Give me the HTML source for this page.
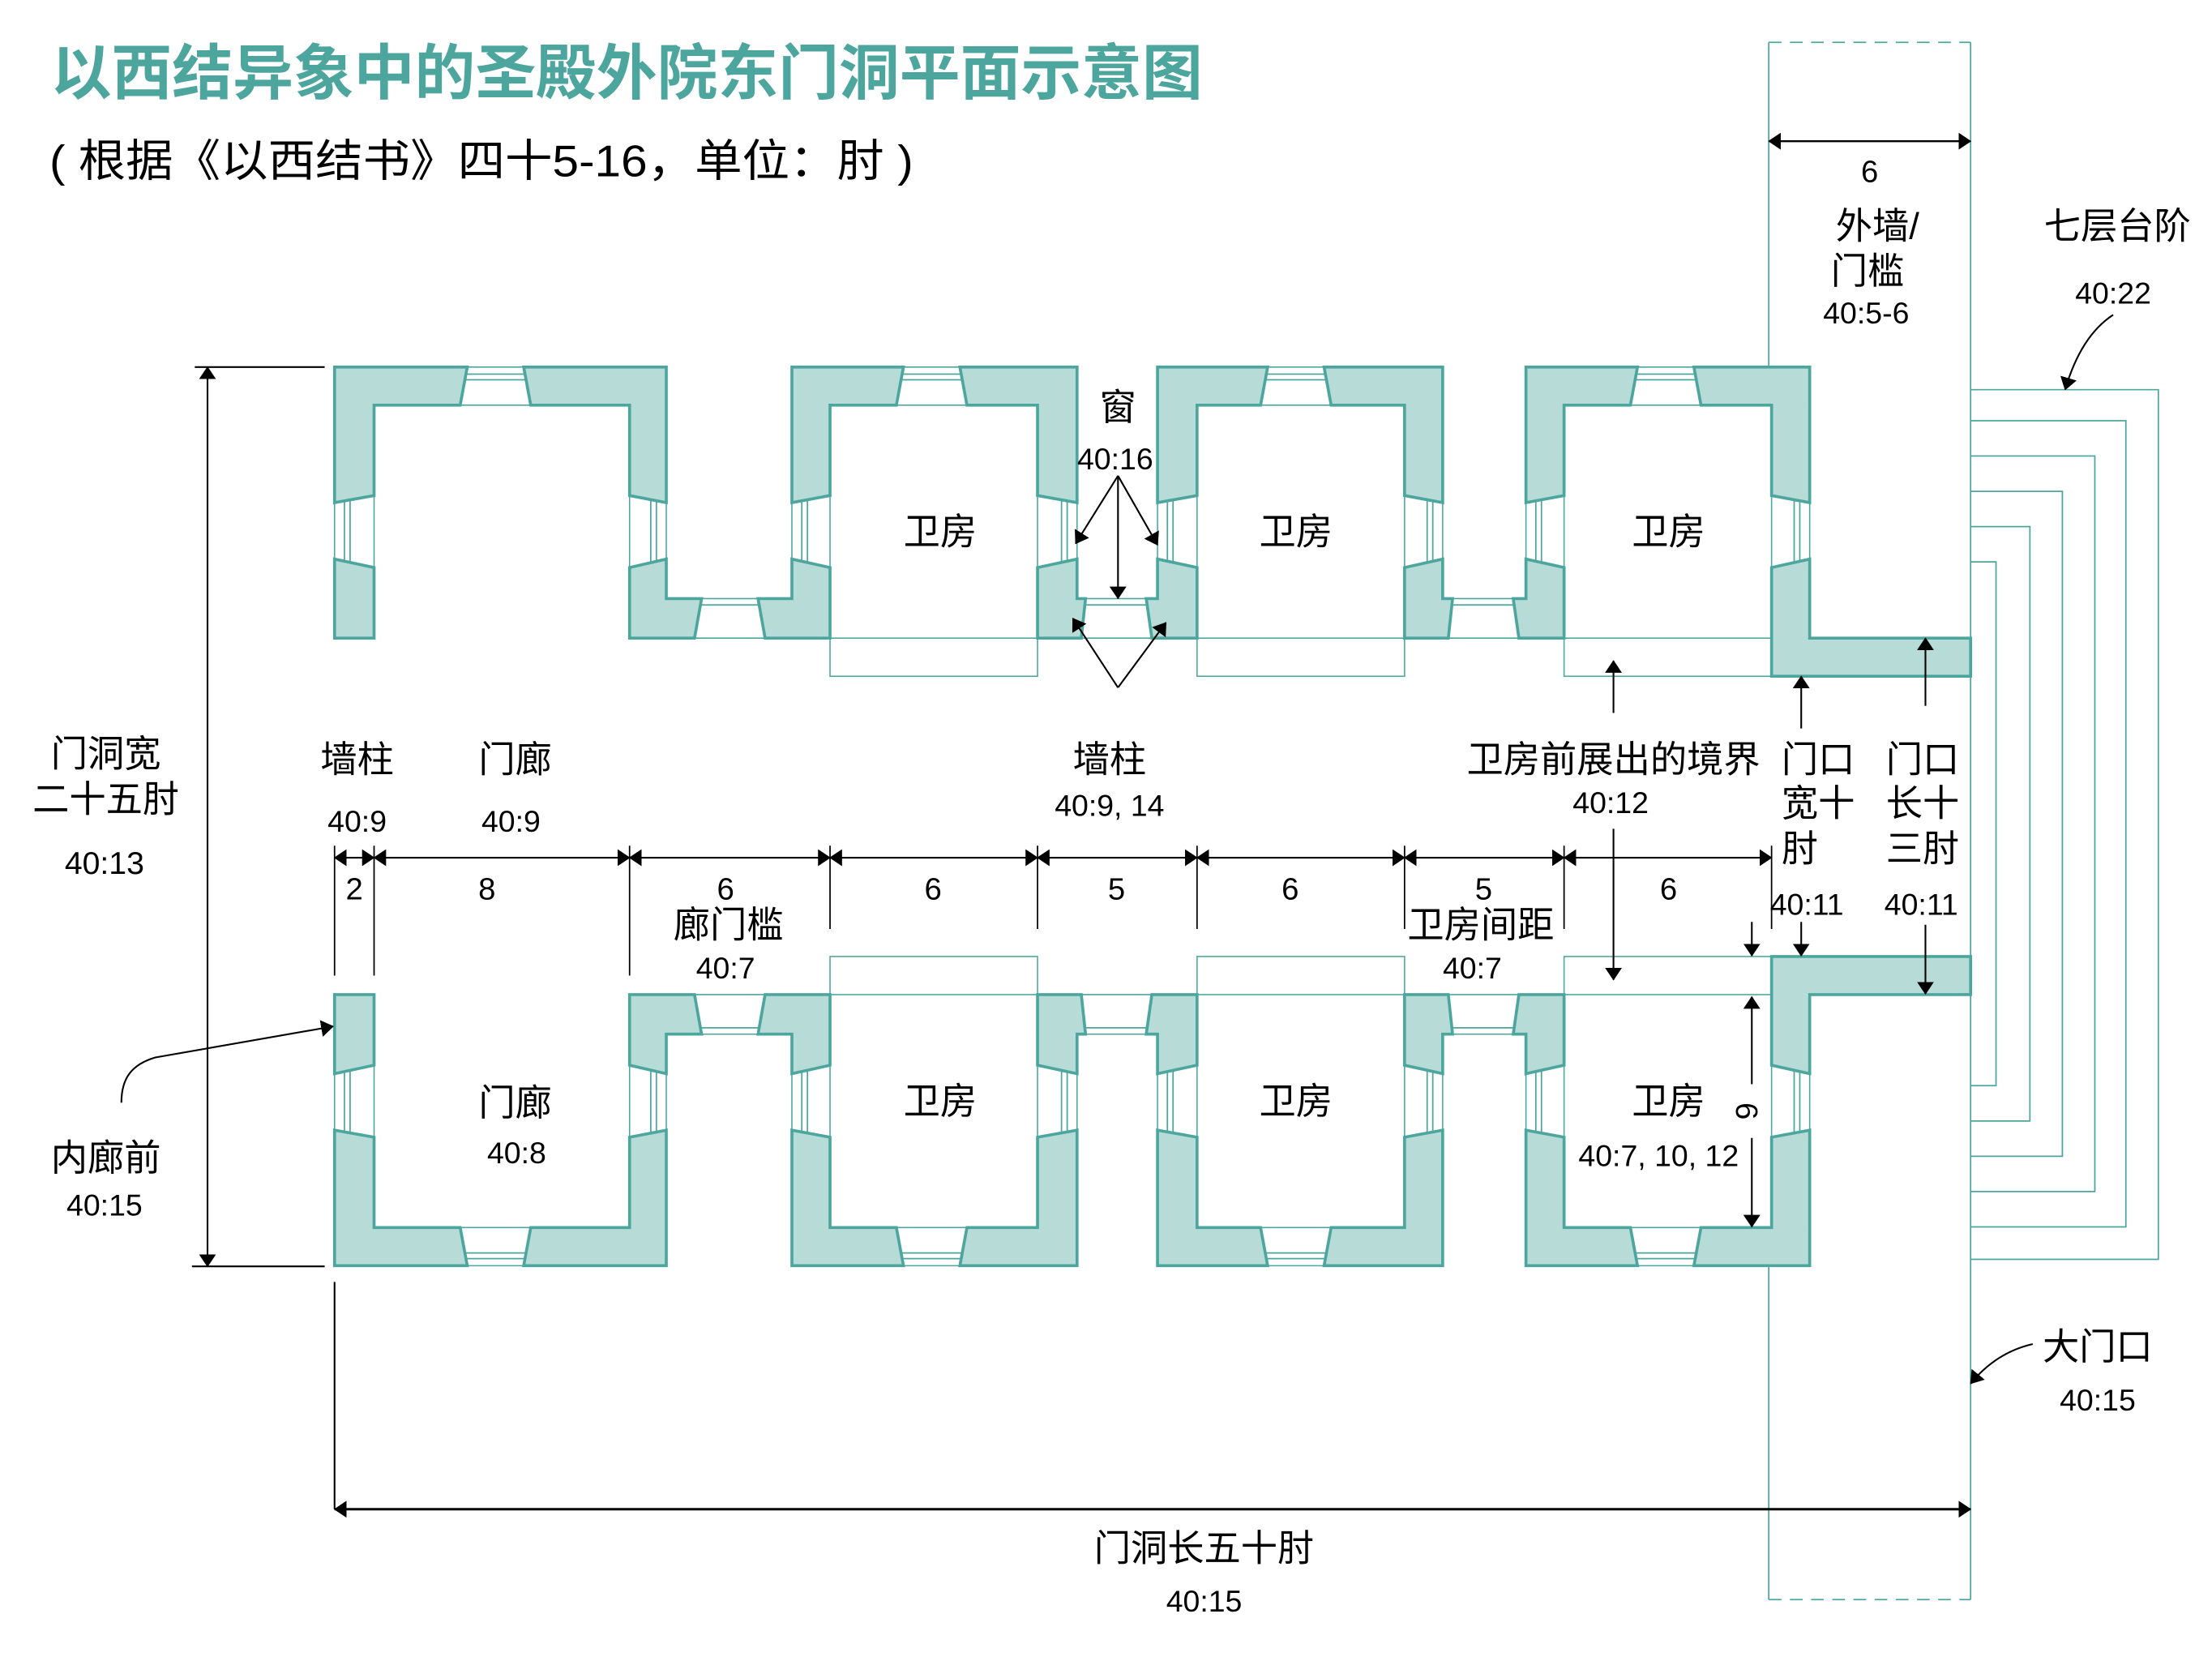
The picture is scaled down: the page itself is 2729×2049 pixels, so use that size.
<!DOCTYPE html>
<html><head><meta charset="utf-8">
<style>
html,body{margin:0;padding:0;background:#fff;width:2729px;height:2049px;overflow:hidden;}
svg{display:block;}
text{font-family:"Liberation Sans","Noto Sans CJK SC",sans-serif;fill:#000;}
.cj{font-size:26px;text-anchor:middle;}
.cs{font-size:26px;}
.nm{font-size:21.5px;text-anchor:middle;}
.dg{font-size:22px;text-anchor:middle;}
.w{fill:#b7dcd8;stroke:#4da69e;stroke-width:2.1;stroke-linejoin:miter;}
.o{fill:#fff;stroke:#4da69e;stroke-width:0.9;}
.l{fill:none;stroke:#4da69e;stroke-width:1;}
.k{stroke:#000;stroke-width:1.2;fill:none;}
</style></head><body>
<svg width="2729" height="2049" viewBox="0 0 1567 1176.5" preserveAspectRatio="none" xmlns="http://www.w3.org/2000/svg" xmlns:xlink="http://www.w3.org/1999/xlink">
<defs>
<marker id="ah" markerUnits="userSpaceOnUse" markerWidth="9" markerHeight="12" refX="8.5" refY="6" orient="auto-start-reverse" viewBox="0 0 9 12"><path d="M0,0 L9,6 L0,12 z" fill="#000"/></marker>
<g id="row">
  <polygon class="o" points="237,356 265,351 265,402 237,396"/>
  <polygon class="o" points="446,351 472,356 472,396 446,402"/>
  <polygon class="o" points="561,356 588,351 588,402 561,396"/>
  <polygon class="o" points="735,351 763,356 763,396 735,402"/>
  <polygon class="o" points="820,356 848,351 848,402 820,396"/>
  <polygon class="o" points="995,351 1022,356 1022,396 995,402"/>
  <polygon class="o" points="1081,356 1108,351 1108,402 1081,396"/>
  <polygon class="o" points="1255,351 1282,356 1282,396 1255,402"/>
  <path class="l" d="M244,355V397.5 M248,354.5V398 M465,355V397.5 M461,354.5V398 M568,355V397.5 M572,354.5V398 M756,355V397.5 M752,354.5V398 M827,355V397.5 M831,354.5V398 M1015,355V397.5 M1011,354.5V398 M1088,355V397.5 M1092,354.5V398 M1275,355V397.5 M1271,354.5V398"/>
  <polygon class="o" points="331,260 371,260 376,287 326,287"/>
  <polygon class="o" points="640,260 680,260 685,287 635,287"/>
  <polygon class="o" points="898,260 938,260 943,287 893,287"/>
  <polygon class="o" points="1160,260 1200,260 1205,287 1155,287"/>
  <path class="l" d="M330,265H372 M329.5,269H372.5 M639,265H681 M638.5,269H681.5 M897,265H939 M896.5,269H939.5 M1159,265H1201 M1158.5,269H1201.5"/>
  <polygon class="o" points="497,424 537,424 542,452 492,452"/>
  <polygon class="o" points="769,424 812,424 816,452 766,452"/>
  <polygon class="o" points="1029,424 1072,424 1076,452 1026,452"/>
  <path class="l" d="M496.5,428.5H537.5 M768.5,428.5H812.5 M1028.5,428.5H1072.5"/>
  <rect class="o" x="588" y="452" width="147" height="27"/>
  <rect class="o" x="848" y="452" width="147" height="27"/>
  <rect class="o" x="1108" y="452" width="147" height="27"/>
  <polygon class="w" points="237,396 265,402 265,452 237,452"/>
  <polygon class="w" points="237,356 237,260 331,260 326,287 265,287 265,351"/>
  <polygon class="w" points="371,260 472,260 472,356 446,351 446,287 376,287"/>
  <polygon class="w" points="446,402 472,396 472,424 497,424 492,452 446,452"/>
  <polygon class="w" points="537,424 561,424 561,396 588,402 588,452 542,452"/>
  <polygon class="w" points="561,356 561,260 640,260 635,287 588,287 588,351"/>
  <polygon class="w" points="680,260 763,260 763,356 735,351 735,287 685,287"/>
  <polygon class="w" points="735,402 763,396 763,424 769,424 766,452 735,452"/>
  <polygon class="w" points="812,424 820,424 820,396 848,402 848,452 816,452"/>
  <polygon class="w" points="820,356 820,260 898,260 893,287 848,287 848,351"/>
  <polygon class="w" points="938,260 1022,260 1022,356 995,351 995,287 943,287"/>
  <polygon class="w" points="995,402 1022,396 1022,424 1029,424 1026,452 995,452"/>
  <polygon class="w" points="1072,424 1081,424 1081,396 1108,402 1108,452 1076,452"/>
  <polygon class="w" points="1081,356 1081,260 1160,260 1155,287 1108,287 1108,351"/>
  <polygon class="w" points="1200,260 1282,260 1282,356 1255,351 1255,287 1205,287"/>
  <polygon class="w" points="1255,402 1282,396 1282,452 1396,452 1396,479 1255,479"/>
</g>
</defs>

<path class="l" d="M1253,30V260 M1253,897V1133 M1396,30V1133"/>
<path class="l" stroke-dasharray="9 6" d="M1253,30H1396 M1253,1133H1396"/>
<path class="l" d="M1396,276H1529V892H1396 M1396,298H1506V869H1396 M1396,323H1484V844H1396 M1396,348H1461V819H1396 M1396,373H1438V794H1396 M1396,398H1414V769H1396"/>

<use xlink:href="#row" href="#row"/>
<use xlink:href="#row" href="#row" transform="translate(0,1156.5) scale(1,-1)"/>

<path stroke="#000" stroke-width="1" fill="none" d="M237,599V691 M265,599V691 M446,599V691 M588,599V658 M735,599V658 M848,599V658 M995,599V658 M1108,599V658 M1255,599V658"/>
<g class="k" marker-start="url(#ah)" marker-end="url(#ah)">
  <line x1="237" y1="607.5" x2="265" y2="607.5"/>
  <line x1="265" y1="607.5" x2="446" y2="607.5"/>
  <line x1="446" y1="607.5" x2="588" y2="607.5"/>
  <line x1="588" y1="607.5" x2="735" y2="607.5"/>
  <line x1="735" y1="607.5" x2="848" y2="607.5"/>
  <line x1="848" y1="607.5" x2="995" y2="607.5"/>
  <line x1="995" y1="607.5" x2="1108" y2="607.5"/>
  <line x1="1108" y1="607.5" x2="1255" y2="607.5"/>
  <line x1="147" y1="260" x2="147" y2="897"/>
  <line x1="1253" y1="100" x2="1396" y2="100" stroke-width="1.4"/>
  <line x1="237" y1="1069" x2="1396" y2="1069" stroke-width="1.7"/>
</g>
<path stroke="#000" stroke-width="1.2" fill="none" d="M138,260H230 M136,897H230 M237,908V1069"/>

<g class="k" marker-end="url(#ah)">
  <line x1="1241" y1="768" x2="1241" y2="706"/>
  <line x1="1241" y1="806" x2="1241" y2="869"/>
  <line x1="1143" y1="505" x2="1143" y2="468"/>
  <line x1="1143" y1="587" x2="1143" y2="694"/>
  <line x1="1276" y1="516" x2="1276" y2="479"/>
  <line x1="1276" y1="653" x2="1276" y2="677"/>
  <line x1="1241" y1="653" x2="1241" y2="677"/>
  <line x1="1364" y1="500" x2="1364" y2="452"/>
  <line x1="1364" y1="655" x2="1364" y2="704"/>
  <line x1="792" y1="337" x2="762" y2="385"/>
  <line x1="792" y1="337" x2="792" y2="424"/>
  <line x1="792" y1="337" x2="820" y2="386"/>
  <line x1="792" y1="487" x2="760" y2="438"/>
  <line x1="792" y1="487" x2="826" y2="441"/>
  <path d="M86,781 C86,764 93,754 110,749 L236,727"/>
  <path d="M1497,223 Q1474,238 1463,276"/>
  <path d="M1440,952 Q1414,958 1396,980"/>
</g>

<text x="36" y="66.5" font-size="42.6" font-weight="700" style="fill:#4da69e" textLength="816" lengthAdjust="spacingAndGlyphs">以西结异象中的圣殿外院东门洞平面示意图</text>
<text x="35" y="125" font-size="31.5" textLength="612" lengthAdjust="spacingAndGlyphs">( 根据《以西结书》四十5-16，单位：肘 )</text>

<text class="cj" x="75" y="543">门洞宽</text>
<text class="cj" x="75" y="575">二十五肘</text>
<text x="74" y="619" font-size="22.5" text-anchor="middle">40:13</text>
<text class="cj" x="75" y="829">内廊前</text>
<text class="nm" x="74" y="861">40:15</text>

<text class="cj" x="253" y="547">墙柱</text>
<text class="nm" x="253" y="589">40:9</text>
<text class="cj" x="365" y="547">门廊</text>
<text class="nm" x="362" y="589">40:9</text>
<text class="cj" x="786" y="547">墙柱</text>
<text class="nm" x="786" y="578">40:9, 14</text>
<text class="cj" x="1143" y="547">卫房前展出的境界</text>
<text class="nm" x="1141" y="576">40:12</text>
<text class="cs" x="1262" y="547">门口</text>
<text class="cs" x="1262" y="578">宽十</text>
<text class="cs" x="1262" y="610">肘</text>
<text class="cs" x="1336" y="547">门口</text>
<text class="cs" x="1336" y="578">长十</text>
<text class="cs" x="1336" y="610">三肘</text>
<text class="nm" x="1280" y="648">40:11</text>
<text class="nm" x="1361" y="648">40:11</text>

<text class="dg" x="251" y="637">2</text>
<text class="dg" x="345" y="637">8</text>
<text class="dg" x="514" y="637">6</text>
<text class="dg" x="661" y="637">6</text>
<text class="dg" x="791" y="637">5</text>
<text class="dg" x="914" y="637">6</text>
<text class="dg" x="1051" y="637">5</text>
<text class="dg" x="1182" y="637">6</text>
<text class="cj" x="516" y="664">廊门槛</text>
<text class="nm" x="514" y="693">40:7</text>
<text class="cj" x="1049" y="664">卫房间距</text>
<text class="nm" x="1043" y="693">40:7</text>

<text class="cj" x="792" y="297.5">窗</text>
<text class="nm" x="790" y="332.5">40:16</text>

<text class="cj" x="666" y="385.5">卫房</text>
<text class="cj" x="918" y="385.5">卫房</text>
<text class="cj" x="1182" y="385.5">卫房</text>
<text class="cj" x="365" y="790">门廊</text>
<text class="nm" x="366" y="824">40:8</text>
<text class="cj" x="666" y="789">卫房</text>
<text class="cj" x="918" y="789">卫房</text>
<text class="cj" x="1182" y="789">卫房</text>
<text class="nm" x="1175" y="826">40:7, 10, 12</text>
<text class="dg" transform="translate(1238,787) rotate(90)" x="0" y="8">6</text>

<text class="cj" x="853" y="1105.5">门洞长五十肘</text>
<text class="nm" x="853" y="1141.5">40:15</text>
<text class="cj" x="1486" y="963">大门口</text>
<text class="nm" x="1486" y="999">40:15</text>

<text class="dg" x="1324.5" y="129">6</text>
<text class="cj" x="1330" y="169">外墙/</text>
<text class="cj" x="1323" y="201">门槛</text>
<text class="nm" x="1322" y="229">40:5-6</text>
<text class="cj" x="1500" y="169">七层台阶</text>
<text class="nm" x="1497" y="215">40:22</text>
</svg>
</body></html>
